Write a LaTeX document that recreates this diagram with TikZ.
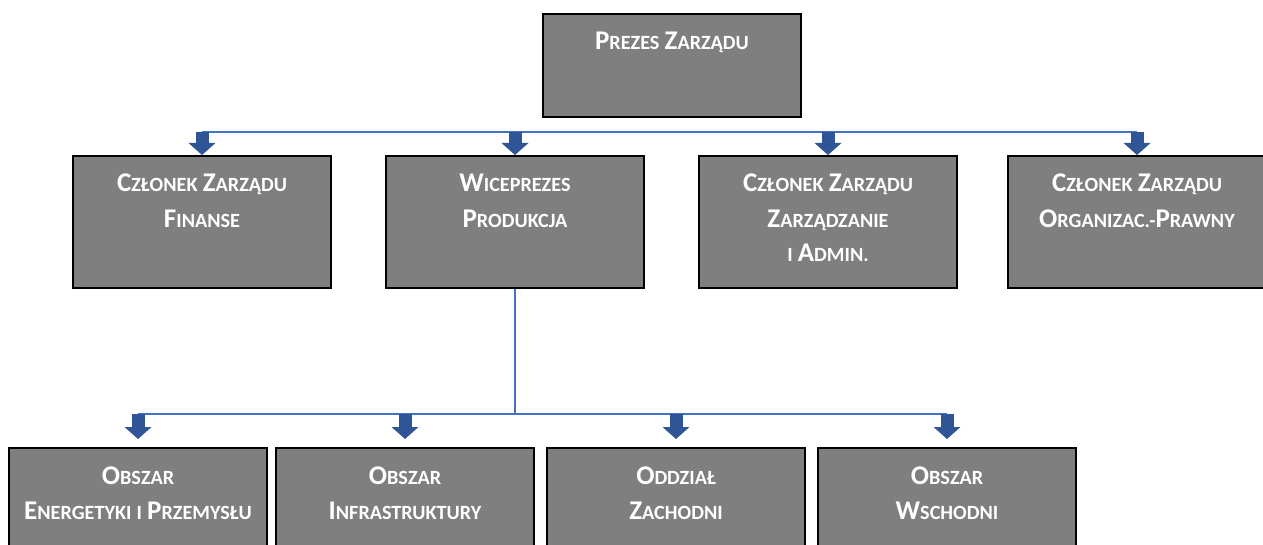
\documentclass[tikz,border=0pt]{standalone}
\usepackage{fontspec}
\setmainfont{Carlito}
\usetikzlibrary{arrows.meta}
\definecolor{boxgray}{HTML}{7F7F7F}
\definecolor{arrowblue}{HTML}{2F5597}
\definecolor{lineblue}{HTML}{4472C4}
% small caps by hand: capital letter + smaller capitals
\newcommand{\kap}[2]{#1{\fontsize{10.1pt}{17.5pt}\selectfont #2}}
\tikzset{
    unit/.style={draw=black, line width=1pt, fill=boxgray, text=white, anchor=north,
        font=\fontsize{13.5pt}{17.5pt}\selectfont\bfseries,
        execute at begin node={\spaceskip=2.6pt\relax},
        text width=125pt, align=center, inner xsep=2pt, inner ysep=0pt,
        text height=18pt, text depth=#1},
    unit/.default=48pt,
    bus/.style={draw=lineblue, line width=0.75pt},
    drop/.style={draw=arrowblue, line width=6.5pt,
        -{Triangle[width=13.5pt, length=6pt, line width=0pt]}}
}

\begin{document}
\begin{tikzpicture}[x=0.5pt, y=-0.5pt]
    \useasboundingbox (0,0) rectangle (1263,545);

    % Top
    \node[unit=33.5pt] (prezes) at (672,13) {\kap{P}{REZES} \kap{Z}{ARZĄDU}};

    % Board
    \node[unit] (finanse) at (202,155) {\kap{C}{ZŁONEK} \kap{Z}{ARZĄDU}\\ \kap{F}{INANSE}};
    \node[unit] (wiceprezes) at (515,155) {\kap{W}{ICEPREZES}\\ \kap{P}{RODUKCJA}};
    \node[unit] (zarzadzanie) at (828,155) {\kap{C}{ZŁONEK} \kap{Z}{ARZĄDU}\\ \kap{Z}{ARZĄDZANIE}\\ \kap{}{I} \kap{A}{DMIN.}};
    \node[unit] (organizac) at (1137,155) {\kap{C}{ZŁONEK} \kap{Z}{ARZĄDU}\\ \kap{O}{RGANIZAC.-}\kap{P}{RAWNY}};

    % Areas
    \node[unit=50pt] (energetyka) at (138,447) {\kap{O}{BSZAR}\\ \kap{E}{NERGETYKI} \kap{}{I} \kap{P}{RZEMYSŁU}};
    \node[unit=50pt] (infrastruktura) at (405,447) {\kap{O}{BSZAR}\\ \kap{I}{NFRASTRUKTURY}};
    \node[unit=50pt] (zachodni) at (676,447) {\kap{O}{DDZIAŁ}\\ \kap{Z}{ACHODNI}};
    \node[unit=50pt] (wschodni) at (947,447) {\kap{O}{BSZAR}\\ \kap{W}{SCHODNI}};

    % Bus lines
    \coordinate (tbus) at (0,132);
    \coordinate (bbus) at (0,414);
    \draw[bus] (finanse.north |- tbus) -- (organizac.north |- tbus);
    \draw[bus] (wiceprezes.south) -- (wiceprezes.south |- bbus);
    \draw[bus] (energetyka.north |- bbus) -- (wschodni.north |- bbus);

    % Arrows
    \foreach \n in {finanse,wiceprezes,zarzadzanie,organizac} {
        \draw[drop] (\n.north |- tbus) -- (\n.north);
    }
    \foreach \n in {energetyka,infrastruktura,zachodni,wschodni} {
        \draw[drop] (\n.north |- bbus) -- ([yshift=4pt]\n.north);
    }
\end{tikzpicture}
\end{document}
